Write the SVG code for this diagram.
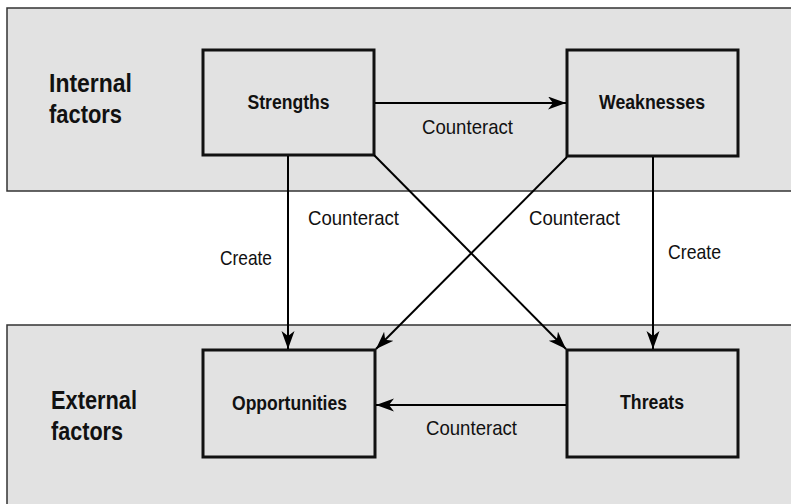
<svg xmlns="http://www.w3.org/2000/svg" width="791" height="504" viewBox="0 0 791 504">
<defs>
<style>
.panel{fill:#e2e2e2;stroke:#333;stroke-width:1.5}
.box{fill:#e2e2e2;stroke:#111;stroke-width:3}
.conn{stroke:#000;stroke-width:2;fill:none;marker-end:url(#ah)}
.big{font-family:"Liberation Sans","Arial",sans-serif;font-weight:bold;font-size:25px;fill:#111}
.nt{font-family:"Liberation Sans","Arial",sans-serif;font-weight:bold;font-size:19.5px;fill:#111;text-anchor:middle}
.lbl{font-family:"Liberation Sans","Arial",sans-serif;font-size:21px;fill:#111}
</style>
<marker id="ah" markerUnits="userSpaceOnUse" markerWidth="20" markerHeight="14" refX="18" refY="6.5" orient="auto">
<path d="M0,0 L18,6.5 L0,13 L5,6.5 z" fill="#000"/>
</marker>
</defs>
<g id="panel-internal">
<rect class="panel" x="7" y="8" width="800" height="183"/>
<text class="big" x="49" y="92" textLength="83" lengthAdjust="spacingAndGlyphs">Internal</text>
<text class="big" x="49" y="123" textLength="73" lengthAdjust="spacingAndGlyphs">factors</text>
</g>
<g id="panel-external">
<rect class="panel" x="7" y="325" width="800" height="200"/>
<text class="big" x="51" y="409" textLength="86" lengthAdjust="spacingAndGlyphs">External</text>
<text class="big" x="51" y="440" textLength="72" lengthAdjust="spacingAndGlyphs">factors</text>
</g>
<g id="strengths">
<rect class="box" x="203" y="50" width="171" height="105"/>
<text class="nt" x="288.5" y="109" textLength="82" lengthAdjust="spacingAndGlyphs">Strengths</text>
</g>
<g id="weaknesses">
<rect class="box" x="567" y="50" width="171" height="106"/>
<text class="nt" x="652" y="109" textLength="106" lengthAdjust="spacingAndGlyphs">Weaknesses</text>
</g>
<g id="opportunities">
<rect class="box" x="203" y="350" width="172" height="107"/>
<text class="nt" x="289.5" y="410" textLength="115" lengthAdjust="spacingAndGlyphs">Opportunities</text>
</g>
<g id="threats">
<rect class="box" x="567" y="350" width="171" height="107"/>
<text class="nt" x="652" y="409" textLength="64" lengthAdjust="spacingAndGlyphs">Threats</text>
</g>
<g id="connectors">
<line class="conn" x1="375" y1="103" x2="566" y2="103"/>
<line class="conn" x1="288" y1="156" x2="288" y2="349"/>
<line class="conn" x1="374" y1="155" x2="566" y2="349"/>
<line class="conn" x1="567" y1="157" x2="376" y2="349"/>
<line class="conn" x1="653" y1="157" x2="653" y2="349"/>
<line class="conn" x1="566" y1="405" x2="376" y2="405"/>
<text class="lbl" x="422" y="134" textLength="91" lengthAdjust="spacingAndGlyphs">Counteract</text>
<text class="lbl" x="220" y="265" textLength="52" lengthAdjust="spacingAndGlyphs">Create</text>
<text class="lbl" x="308" y="225" textLength="91" lengthAdjust="spacingAndGlyphs">Counteract</text>
<text class="lbl" x="529" y="225" textLength="91" lengthAdjust="spacingAndGlyphs">Counteract</text>
<text class="lbl" x="668" y="259" textLength="53" lengthAdjust="spacingAndGlyphs">Create</text>
<text class="lbl" x="426" y="435" textLength="91" lengthAdjust="spacingAndGlyphs">Counteract</text>
</g>
</svg>
